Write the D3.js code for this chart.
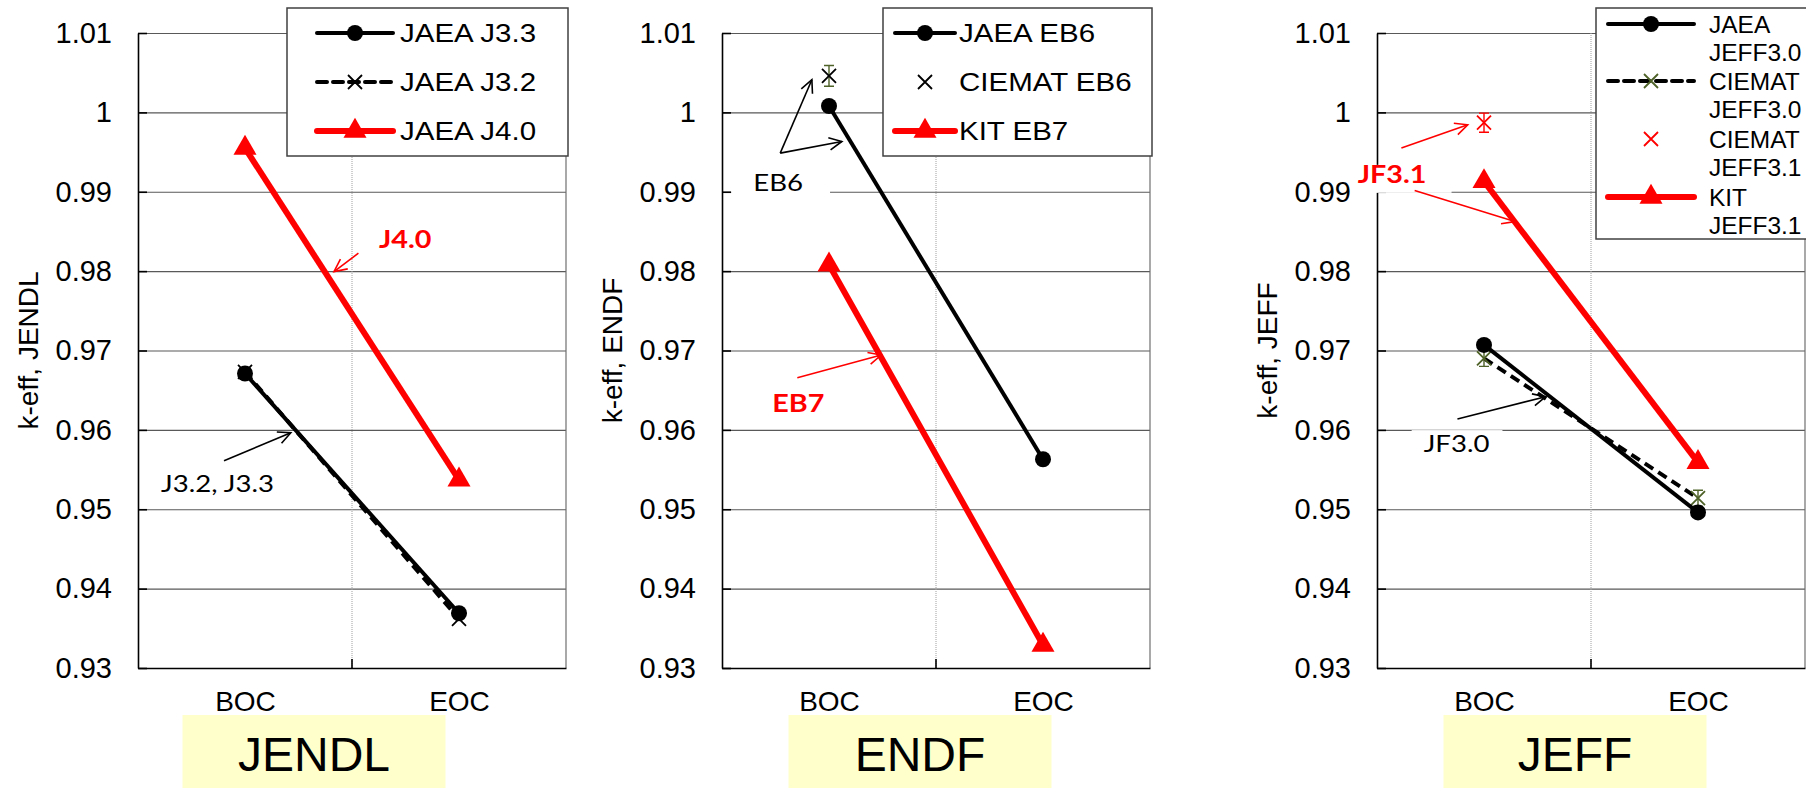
<!DOCTYPE html>
<html>
<head>
<meta charset="utf-8">
<script src="https://cdn.jsdelivr.net/npm/d3@7"></script>
<style>
  body { margin: 0; background: #fff; }
</style>
</head>
<body>
<svg id="chart" width="1806" height="788"></svg>
<script>
// Categories and ticks
const stages = ["BOC", "EOC"];
const yTicks = [0.93, 0.94, 0.95, 0.96, 0.97, 0.98, 0.99, 1.0, 1.01];

// JENDL panel
const jaeaJ33 = [0.9671, 0.9369];
const jaeaJ32 = [0.9673, 0.9362];
const jaeaJ40 = [0.9955, 0.9537];

// ENDF panel
const jaeaEB6 = [1.0008, 0.9563];
const ciematEB6 = [1.0046, null];
const ciematEB6Err = [0.0013, null];
const kitEB7 = [0.9808, 0.9329];

// JEFF panel
const jaeaJF30 = [0.9707, 0.9496];
const ciematJF30 = [0.9690, 0.9514];
const ciematJF30Err = [0.0010, 0.0010];
const ciematJF31 = [0.9987, null];
const ciematJF31Err = [0.0012, null];
const kitJF31 = [0.9913, 0.9559];

const RED = "#ff0000", OLIVE = "#4f6228";
const ARIAL = "'Liberation Sans', Arial, sans-serif";
const CALIBRI = "Lato, 'Open Sans', sans-serif";

// line styles
const solidDot = (name, values) => ({ name, values, color: "#000", width: 4, marker: "dot", mColor: "#000", line: true });
const dashedX = (name, values, mColor, err) => ({ name, values, err, color: "#000", width: 4, dash: "10,6", marker: "x", mColor, line: true });
const redTri = (name, values) => ({ name, values, color: RED, width: 6, marker: "tri", mColor: RED, line: true });
const onlyX = (name, values, mColor, err, errColor) => ({ name, values, err, errColor, color: mColor, marker: "x", mColor, line: false });

const panels = [
  {
    label: "JENDL", yTitle: "k-eff, JENDL", left: 138, boxOffset: -38,
    series: [redTri(["JAEA J4.0"], jaeaJ40), dashedX(["JAEA J3.2"], jaeaJ32, "#000"), solidDot(["JAEA J3.3"], jaeaJ33)],
    legendOrder: [2, 1, 0],
    legend: { x: 287, y: 8, w: 281, h: 148, l0: 30, l1: 106, tx: 113, rows: [33, 82, 131], fs: 25, sx: 1.18, gap: 0 },
    notes: [
      { text: "J4.0", xf: 0.563, y: 0.98293, color: RED, bold: true },
      { text: "J3.2, J3.3", xf: 0.054, y: 0.95216, color: "#000" }
    ],
    arrows: [
      { from: [0.515, 0.98226], to: [0.458, 0.97994], color: RED },
      { from: [0.201, 0.9561], to: [0.357, 0.95964], color: "#000" }
    ]
  },
  {
    label: "ENDF", yTitle: "k-eff, ENDF", left: 722, boxOffset: -16,
    series: [redTri(["KIT EB7"], kitEB7), solidDot(["JAEA EB6"], jaeaEB6), onlyX(["CIEMAT EB6"], ciematEB6, "#000", ciematEB6Err, OLIVE)],
    legendOrder: [1, 2, 0],
    legend: { x: 883, y: 8, w: 269, h: 148, l0: 12, l1: 72, tx: 76, rows: [33, 82, 131], fs: 25, sx: 1.18, gap: 0 },
    notes: [
      { text: "EB6", xf: 0.073, y: 0.99011, color: "#000", bg: [22, 27, 22, 10] },
      { text: "EB7", xf: 0.1175, y: 0.96225, color: RED, bold: true }
    ],
    arrows: [
      { from: [0.136, 0.99487], to: [0.210, 1.00411], color: "#000" },
      { from: [0.136, 0.99487], to: [0.280, 0.99633], color: "#000" },
      { from: [0.176, 0.96657], to: [0.372, 0.96943], color: RED }
    ]
  },
  {
    label: "JEFF", yTitle: "k-eff, JEFF", left: 1377, boxOffset: -16,
    series: [redTri(["KIT", "JEFF3.1"], kitJF31), dashedX(["CIEMAT", "JEFF3.0"], ciematJF30, OLIVE, ciematJF30Err),
             solidDot(["JAEA", "JEFF3.0"], jaeaJF30), onlyX(["CIEMAT", "JEFF3.1"], ciematJF31, RED, ciematJF31Err, RED)],
    legendOrder: [2, 1, 3, 0],
    legend: { x: 1596, y: 8, w: 212, h: 231, l0: 12, l1: 98, tx: 113, rows: [24, 81, 139, 197], fs: 24, sx: 1.02, gap: 28 },
    notes: [
      { text: "JF3.1", xf: -0.045, y: 0.99112, color: RED, bold: true, bg: [6, 25, 18, 10] },
      { text: "JF3.0", xf: 0.109, y: 0.95720, color: "#000", bg: [12, 13, 22, 5] }
    ],
    arrows: [
      { from: [0.057, 0.9955], to: [0.212, 0.99844], color: RED },
      { from: [0.088, 0.99015], to: [0.322, 0.98624], color: RED },
      { from: [0.188, 0.96136], to: [0.394, 0.96418], color: "#000" }
    ]
  }
];

const svg = d3.select("#chart");
const plotTop = 33, plotBottom = 668, plotW = 428;
const y = d3.scaleLinear().domain([0.93, 1.01]).range([plotBottom, plotTop]);
const NOTE_SX = 1.15;

function drawMarker(g, type, cx, cy, color) {
  if (type === "dot") {
    g.append("circle").attr("cx", cx).attr("cy", cy).attr("r", 8).attr("fill", color);
  } else if (type === "tri") {
    g.append("path").attr("d", d3.symbol(d3.symbolTriangle, 230)())
      .attr("transform", `translate(${cx},${cy})`).attr("fill", color);
  } else if (type === "x") {
    const s = 7;
    g.append("path").attr("d", `M${cx - s},${cy - s}L${cx + s},${cy + s}M${cx - s},${cy + s}L${cx + s},${cy - s}`)
      .attr("stroke", color).attr("stroke-width", 1.8).attr("fill", "none");
  }
}

function drawArrow(g, x1, y1, x2, y2, color) {
  g.append("line").attr("x1", x1).attr("y1", y1).attr("x2", x2).attr("y2", y2)
    .attr("stroke", color).attr("stroke-width", 1.6);
  const a = Math.atan2(y2 - y1, x2 - x1), L = 14, h = 0.45;
  const p1 = [x2 - L * Math.cos(a - h), y2 - L * Math.sin(a - h)];
  const p2 = [x2 - L * Math.cos(a + h), y2 - L * Math.sin(a + h)];
  g.append("path").attr("d", `M${p1}L${x2},${y2}L${p2}`)
    .attr("stroke", color).attr("stroke-width", 1.6).attr("fill", "none");
}

panels.forEach(p => {
  const g = svg.append("g").attr("transform", `translate(${p.left},0)`);
  const x = d3.scalePoint().domain(stages).range([0, plotW]).padding(0.5);
  const xf = d3.scaleLinear().domain([0, 1]).range([0, plotW]);

  // horizontal gridlines
  g.append("g")
    .call(d3.axisLeft(y).tickValues(yTicks).tickSize(-plotW).tickFormat(""))
    .call(a => a.select(".domain").remove())
    .selectAll("line").attr("stroke", "#595959").attr("stroke-width", 1.2);

  // right border + dotted divider
  g.append("line").attr("x1", plotW).attr("x2", plotW).attr("y1", plotTop).attr("y2", plotBottom)
    .attr("stroke", "#6f6f6f").attr("stroke-width", 1.2);
  g.append("line").attr("x1", plotW / 2).attr("x2", plotW / 2).attr("y1", plotTop).attr("y2", plotBottom)
    .attr("stroke", "#a0a0a0").attr("stroke-dasharray", "1,1");

  // left axis with inward ticks
  g.append("g")
    .call(d3.axisLeft(y).tickValues(yTicks).tickSizeInner(-9).tickSizeOuter(0).tickPadding(26)
      .tickFormat(d => String(+d.toFixed(2))))
    .attr("font-family", ARIAL).attr("font-size", 29)
    .call(a => {
      a.select(".domain").attr("stroke", "#000").attr("stroke-width", 1.6);
      a.selectAll(".tick line").attr("stroke", "#000").attr("stroke-width", 1.6);
      a.selectAll("text").attr("fill", "#000");
    });

  // bottom axis
  g.append("g")
    .attr("transform", `translate(0,${plotBottom})`)
    .call(d3.axisBottom(x).tickSize(0).tickPadding(23))
    .attr("font-family", ARIAL).attr("font-size", 28)
    .call(a => {
      a.select(".domain").attr("stroke", "#000").attr("stroke-width", 1.6);
      a.selectAll("text").attr("fill", "#000");
    });
  g.append("line").attr("x1", plotW / 2).attr("x2", plotW / 2).attr("y1", plotBottom - 9).attr("y2", plotBottom)
    .attr("stroke", "#000").attr("stroke-width", 1.6);

  // y title
  g.append("text")
    .attr("transform", `translate(-110,${(plotTop + plotBottom) / 2}) rotate(-90)`)
    .attr("text-anchor", "middle").attr("dy", "0.35em")
    .attr("font-family", ARIAL).attr("font-size", 28)
    .text(p.yTitle);

  // yellow label box
  const bx = plotW / 2 + p.boxOffset - 131.5;
  g.append("rect").attr("x", bx).attr("y", 715).attr("width", 263).attr("height", 73).attr("fill", "#ffffcc");
  g.append("text").attr("x", bx + 131.5).attr("y", 771).attr("text-anchor", "middle")
    .attr("font-family", ARIAL).attr("font-size", 48).text(p.label);

  // series
  p.series.forEach(s => {
    const pts = stages.map((st, i) => ({ st, v: s.values[i], e: s.err ? s.err[i] : null })).filter(d => d.v != null);
    if (s.line) {
      g.append("path").datum(pts)
        .attr("d", d3.line().x(d => x(d.st)).y(d => y(d.v)))
        .attr("fill", "none").attr("stroke", s.color).attr("stroke-width", s.width)
        .attr("stroke-dasharray", s.dash || null);
    }
    pts.forEach(d => {
      if (d.e) {
        const cx = x(d.st), y0 = y(d.v - d.e), y1 = y(d.v + d.e);
        const ec = s.errColor || s.mColor;
        g.append("path").attr("d", `M${cx},${y0}L${cx},${y1}M${cx - 5},${y0}L${cx + 5},${y0}M${cx - 5},${y1}L${cx + 5},${y1}`)
          .attr("stroke", ec).attr("stroke-width", 1.4).attr("fill", "none");
      }
      drawMarker(g, s.marker, x(d.st), y(d.v), s.mColor);
    });
  });

  // annotations
  p.notes.forEach(n => {
    const tx = xf(n.xf), ty = y(n.y);
    const t = g.append("text")
      .attr("transform", `translate(${tx},${ty}) scale(${NOTE_SX},1)`)
      .attr("font-family", CALIBRI).attr("font-size", n.bold ? 25 : 24)
      .attr("font-weight", n.bold ? 700 : 400).attr("fill", n.color).text(n.text);
    if (n.bg) {
      const b = t.node().getBBox();
      g.insert("rect", () => t.node())
        .attr("x", tx - n.bg[0]).attr("y", ty - n.bg[2])
        .attr("width", b.width * NOTE_SX + n.bg[0] + n.bg[1]).attr("height", n.bg[2] + n.bg[3])
        .attr("fill", "#fff");
    }
  });
  p.arrows.forEach(a => drawArrow(g, xf(a.from[0]), y(a.from[1]), xf(a.to[0]), y(a.to[1]), a.color));

  // legend
  const L = p.legend;
  const lg = svg.append("g");
  lg.append("rect").attr("x", L.x).attr("y", L.y).attr("width", L.w).attr("height", L.h)
    .attr("fill", "#fff").attr("stroke", "#404040").attr("stroke-width", 1.5);
  p.legendOrder.forEach((si, row) => {
    const s = p.series[si], ry = L.rows[row];
    if (s.line) {
      lg.append("line").attr("x1", L.x + L.l0).attr("x2", L.x + L.l1).attr("y1", ry).attr("y2", ry)
        .attr("stroke", s.color).attr("stroke-width", s.width).attr("stroke-linecap", "round")
        .attr("stroke-dasharray", s.dash || null);
    }
    drawMarker(lg, s.marker, L.x + (L.l0 + L.l1) / 2, ry, s.mColor);
    s.name.forEach((line, k) => {
      lg.append("text")
        .attr("transform", `translate(${L.x + L.tx},${ry + k * L.gap}) scale(${L.sx},1)`)
        .attr("dy", "0.36em")
        .attr("font-family", ARIAL).attr("font-size", L.fs).text(line);
    });
  });
});
</script>
</body>
</html>
